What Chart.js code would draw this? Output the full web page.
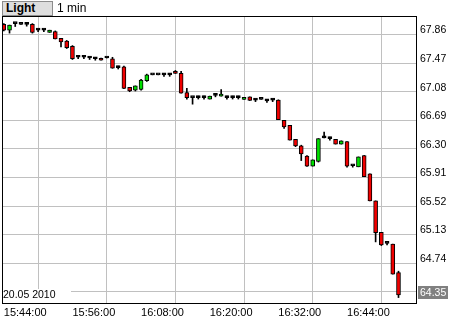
<!DOCTYPE html>
<html>
<head>
<meta charset="utf-8">
<script src="https://cdn.jsdelivr.net/npm/chart.js@4.4.1/dist/chart.umd.min.js"></script>
<style>
html, body { margin: 0; padding: 0; background: #fff; }
#wrap { position: relative; width: 460px; height: 320px; overflow: hidden; }
#chart { position: absolute; left: 0; top: 0; }
.style-btn {
  position: absolute; left: 2px; top: 1px; width: 46px; height: 13px;
  padding-left: 3px; background: #dedede; border: 1px solid #8c8c8c;
  font: bold 12px Arial, "Liberation Sans", sans-serif; line-height: 13px; color: #000;
}
.period {
  position: absolute; left: 57px; top: 1px;
  font: 12px Arial, "Liberation Sans", sans-serif; line-height: 14px; color: #000;
}
</style>
</head>
<body>
<div id="wrap">
  <canvas id="chart" width="460" height="320"></canvas>
  <div class="style-btn">Light</div>
  <div class="period">1 min</div>
</div>
<script>
// 1 minute candles, 20.05.2010
const times = [
  '15:44', '15:45', '15:46', '15:47', '15:48', '15:49', '15:50', '15:51', '15:52', '15:53',
  '15:54', '15:55', '15:56', '15:57', '15:58', '15:59', '16:00', '16:01', '16:02', '16:03',
  '16:04', '16:05', '16:06', '16:07', '16:08', '16:09', '16:10', '16:11', '16:12', '16:13',
  '16:14', '16:15', '16:16', '16:17', '16:18', '16:19', '16:20', '16:21', '16:22', '16:23',
  '16:24', '16:25', '16:26', '16:27', '16:28', '16:29', '16:30', '16:31', '16:32', '16:33',
  '16:34', '16:35', '16:36', '16:37', '16:38', '16:39', '16:40', '16:41', '16:42', '16:43',
  '16:44', '16:45', '16:46', '16:47', '16:48', '16:49', '16:50', '16:51', '16:52', '16:53'
];
const opens = [
  68.00, 67.92, 68.01, 68.00, 68.00, 68.00, 67.92, 67.92, 67.89, 67.90,
  67.81, 67.77, 67.70, 67.55, 67.55, 67.54, 67.53, 67.53, 67.54, 67.53,
  67.41, 67.42, 67.14, 67.10, 67.11, 67.23, 67.31, 67.31, 67.31, 67.31,
  67.36, 67.33, 67.07, 67.00, 67.00, 67.00, 66.98, 67.03, 67.02, 67.00,
  67.00, 67.00, 66.975, 67.01, 66.965, 66.975, 66.955, 66.965, 66.965, 66.69,
  66.62, 66.43, 66.34, 66.20, 66.065, 66.13, 66.45, 66.44, 66.43, 66.365,
  66.40, 66.07, 66.055, 66.21, 65.96, 65.59, 65.16, 65.01, 65.00, 64.61
];
const highs = [
  68.01, 67.99, 68.01, 68.00, 68.02, 68.01, 67.94, 67.94, 67.92, 67.91,
  67.81, 67.78, 67.71, 67.57, 67.57, 67.56, 67.55, 67.54, 67.55, 67.55,
  67.43, 67.43, 67.14, 67.16, 67.25, 67.32, 67.31, 67.31, 67.33, 67.33,
  67.37, 67.36, 67.125, 67.00, 67.02, 67.02, 67.02, 67.05, 67.11, 67.02,
  67.02, 67.02, 67.00, 67.01, 66.985, 66.975, 66.975, 66.985, 66.97, 66.69,
  66.62, 66.43, 66.35, 66.21, 66.15, 66.44, 66.53, 66.46, 66.43, 66.41,
  66.40, 66.07, 66.19, 66.21, 65.96, 65.59, 65.16, 65.01, 65.00, 64.63
];
const lows = [
  67.91, 67.88, 67.97, 68.00, 67.975, 67.88, 67.90, 67.90, 67.89, 67.80,
  67.69, 67.67, 67.52, 67.53, 67.53, 67.52, 67.51, 67.51, 67.54, 67.40,
  67.39, 67.12, 67.08, 67.09, 67.10, 67.22, 67.31, 67.31, 67.29, 67.29,
  67.33, 67.06, 66.98, 66.91, 66.98, 66.98, 66.98, 67.01, 67.02, 66.98,
  66.98, 66.98, 66.975, 66.96, 66.945, 66.975, 66.935, 66.945, 66.70, 66.58,
  66.42, 66.33, 66.14, 66.06, 66.065, 66.12, 66.45, 66.42, 66.365, 66.365,
  66.05, 66.05, 66.055, 65.92, 65.59, 65.03, 64.98, 64.99, 64.59, 64.27
];
const closes = [
  67.92, 67.99, 68.01, 68.00, 68.00, 67.89, 67.92, 67.92, 67.92, 67.80,
  67.76, 67.68, 67.53, 67.55, 67.55, 67.54, 67.53, 67.51, 67.54, 67.40,
  67.41, 67.125, 67.09, 67.16, 67.24, 67.31, 67.31, 67.31, 67.31, 67.31,
  67.33, 67.06, 67.00, 67.00, 67.00, 67.00, 67.02, 67.03, 67.03, 67.00,
  67.00, 67.00, 67.00, 66.96, 66.965, 66.975, 66.955, 66.965, 66.70, 66.60,
  66.42, 66.34, 66.23, 66.065, 66.15, 66.44, 66.45, 66.44, 66.365, 66.41,
  66.065, 66.07, 66.19, 65.92, 65.59, 65.155, 64.99, 65.01, 64.59, 64.305
];
const yTicks = [64.35, 64.74, 65.13, 65.52, 65.91, 66.30, 66.69, 67.08, 67.47, 67.86];
const xTickLabels = ['15:44:00', '15:56:00', '16:08:00', '16:20:00', '16:32:00', '16:44:00'];
const dateLabel = '20.05 2010';
const markedPrice = 64.35;

const FONT = 'Arial, "Liberation Sans", sans-serif';
const UP = '#00e000';
const DOWN = '#f00000';

function minutesFrom(t) {
  const p = t.split(':');
  return (+p[0]) * 60 + (+p[1]) - (15 * 60 + 44);
}

const xTickMins = xTickLabels.map(minutesFrom);
const bodies = times.map((t, i) => ({ x: minutesFrom(t), y: [opens[i], closes[i]] }));
const wicks = times.map((t, i) => ({ x: minutesFrom(t), y: [lows[i], highs[i]] }));
const bodyColors = opens.map((o, i) => closes[i] > o ? UP : closes[i] < o ? DOWN : '#000');

const framePlugin = {
  id: 'frame',
  beforeDatasetsDraw(chart) {
    const { ctx, chartArea } = chart;
    ctx.save();
    ctx.fillStyle = '#fff';
    ctx.fillRect(chartArea.left, chartArea.bottom - 14, 68, 14);
    ctx.fillStyle = '#000';
    ctx.font = '10.5px ' + FONT;
    ctx.textBaseline = 'middle';
    ctx.textAlign = 'left';
    ctx.fillText(dateLabel, chartArea.left, chartArea.bottom - 8);
    ctx.restore();
  },
  afterDraw(chart) {
    const { ctx, chartArea } = chart;
    ctx.save();
    ctx.strokeStyle = '#000';
    ctx.lineWidth = 1;
    ctx.strokeRect(chartArea.left - 0.5, chartArea.top - 0.5,
      chartArea.right - chartArea.left + 1, chartArea.bottom - chartArea.top + 1);
    // highlighted price label on the right axis
    const y = Math.round(chart.scales.y.getPixelForValue(markedPrice));
    ctx.fillStyle = '#808080';
    ctx.fillRect(chartArea.right + 2, y - 6, 30, 13);
    ctx.fillStyle = '#fff';
    ctx.font = '10.5px ' + FONT;
    ctx.textBaseline = 'middle';
    ctx.fillText(markedPrice.toFixed(2), chartArea.right + 4, y + 1);
    ctx.restore();
  }
};

new Chart(document.getElementById('chart'), {
  type: 'bar',
  data: {
    datasets: [
      {
        data: bodies,
        backgroundColor: bodyColors,
        borderColor: '#000',
        borderWidth: 1,
        borderSkipped: false,
        barThickness: 4,
        minBarLength: 2,
        grouped: false
      },
      {
        data: wicks,
        backgroundColor: '#000',
        borderWidth: 0,
        barThickness: 1,
        grouped: false
      }
    ]
  },
  options: {
    responsive: false,
    devicePixelRatio: 1,
    animation: false,
    layout: { padding: { top: 17, left: 3, right: 0, bottom: 0 } },
    plugins: { legend: { display: false }, tooltip: { enabled: false } },
    scales: {
      x: {
        type: 'linear',
        min: -0.14,
        max: 72.06,
        offset: false,
        border: { display: false },
        grid: { color: '#c0c0c0', drawTicks: false },
        afterBuildTicks: s => { s.ticks = xTickMins.map(v => ({ value: v })); },
        afterFit: s => { s.height = 17; s.paddingLeft = 0; s.paddingRight = 0; },
        ticks: {
          color: '#000',
          font: { family: FONT, size: 11 },
          padding: 3,
          align: 'start',
          maxRotation: 0,
          autoSkip: false,
          callback: v => xTickLabels[xTickMins.indexOf(v)]
        }
      },
      y: {
        position: 'right',
        min: 64.196,
        max: 68.10,
        border: { display: false },
        grid: { color: '#c0c0c0', drawTicks: false },
        afterBuildTicks: s => { s.ticks = yTicks.map(v => ({ value: v })); },
        afterFit: s => { s.width = 44; s.paddingTop = 0; s.paddingBottom = 0; },
        ticks: {
          color: '#000',
          font: { family: FONT, size: 10.5 },
          padding: 4,
          labelOffset: -4,
          callback: v => Math.abs(v - markedPrice) < 1e-6 ? '' : v.toFixed(2)
        }
      }
    }
  },
  plugins: [framePlugin]
});
</script>
</body>
</html>
